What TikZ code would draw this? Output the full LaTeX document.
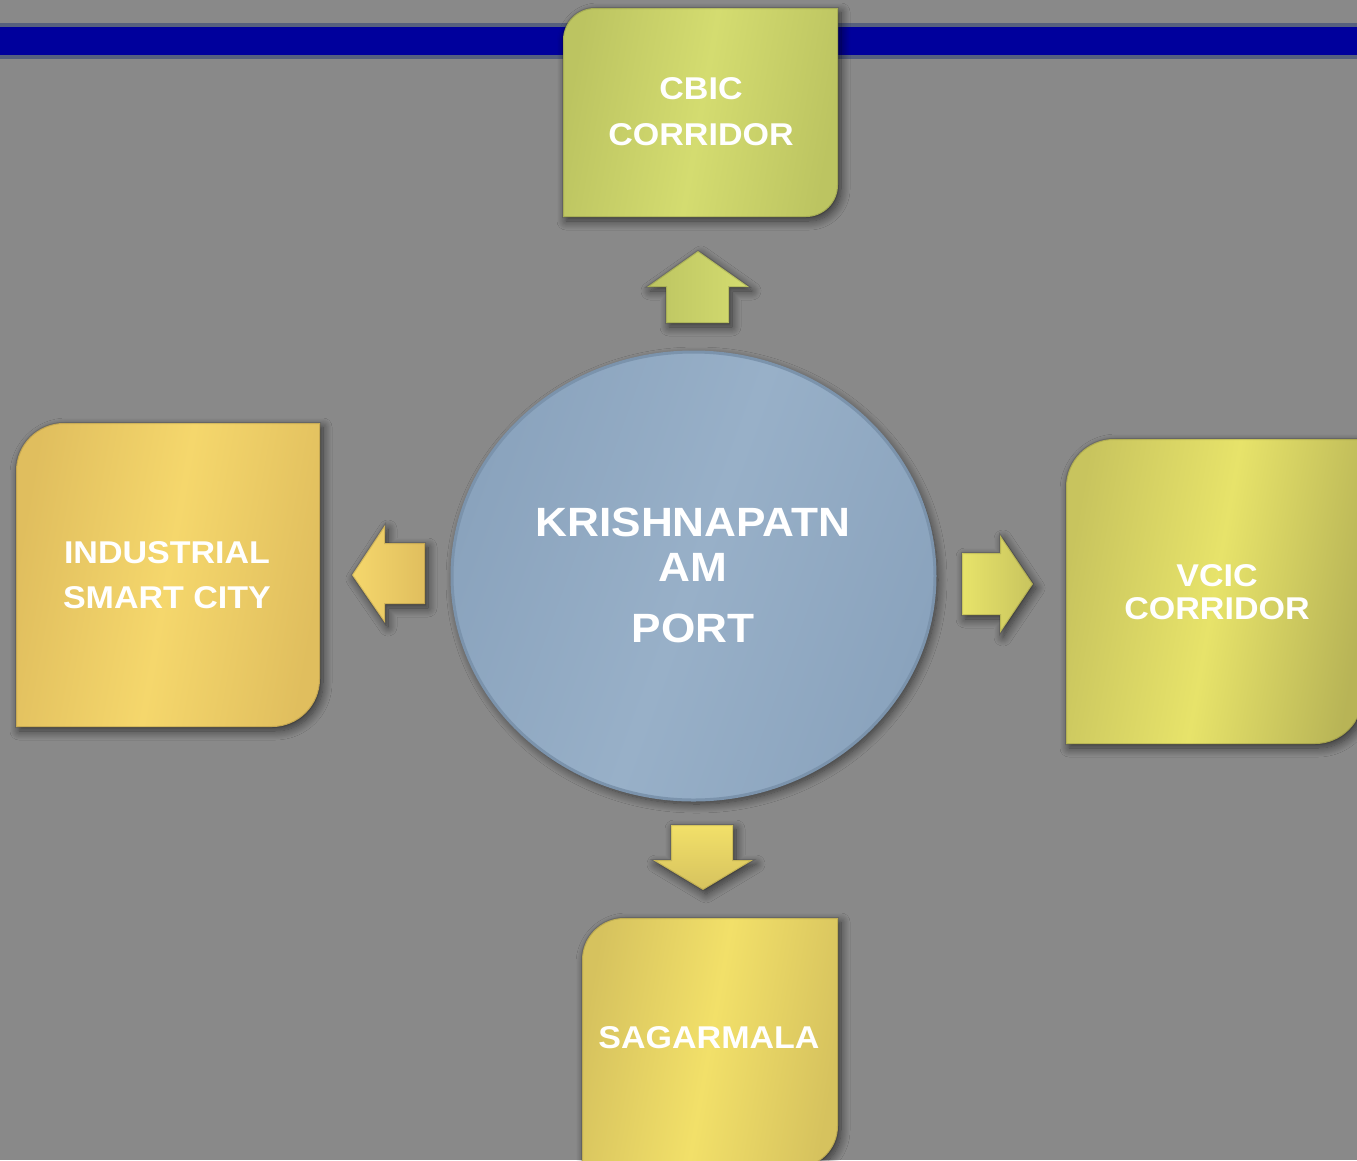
\documentclass[tikz,border=0pt]{standalone}
\usepackage{fontspec}
\newfontfamily\lab[FakeStretch=1.08]{Liberation Sans}
\usetikzlibrary{shapes.geometric,shadows.blur}
\definecolor{bg}{HTML}{898989}
\definecolor{barblue}{HTML}{00009C}
\definecolor{baredge}{HTML}{56607E}
\definecolor{cbicE}{HTML}{BCC461}
\definecolor{cbicM}{HTML}{D4DC70}
\definecolor{indE}{HTML}{E0BE5E}
\definecolor{indM}{HTML}{F5D76C}
\definecolor{vcicE}{HTML}{C8C45E}
\definecolor{vcicM}{HTML}{E7E36A}
\definecolor{sagE}{HTML}{D6C25E}
\definecolor{sagM}{HTML}{F2E069}
\definecolor{portE}{HTML}{8AA3BD}
\definecolor{portM}{HTML}{98B0C8}
\definecolor{portRim}{HTML}{7B93AC}
\def\kb#1#2#3#4#5{(#1,#2+#5) .. controls (#1,#2+0.448*#5) and (#1+0.448*#5,#2) .. (#1+#5,#2) -- (#3,#2) -- (#3,#4-#5) .. controls (#3,#4-0.448*#5) and (#3-0.448*#5,#4) .. (#3-#5,#4) -- (#1,#4) -- cycle}
\begin{document}
\begin{tikzpicture}[x=1pt,y=-1pt,
  lbl/.style={text=white, align=center, inner sep=0pt},
  shad/.style={blur shadow={shadow xshift=3pt, shadow yshift=-4pt, shadow blur radius=9pt, shadow opacity=60, shadow blur steps=12}},
  bevel/.style={draw=black, draw opacity=0.12, line width=2pt},
]
\useasboundingbox (0,0) rectangle (1357,1160);
\clip (0,0) rectangle (1357,1160);
\fill[bg] (0,0) rectangle (1357,1160);
% top bar
\fill[baredge] (0,23) rectangle (1357,59);
\fill[barblue] (0,27) rectangle (1357,55);
% boxes
\path[shad, bevel, left color=cbicE, right color=cbicE, middle color=cbicM, shading angle=80] \kb{563}{8}{838}{217}{32};
\path[shad, bevel, left color=indE, right color=indE, middle color=indM, shading angle=80] \kb{16}{423}{320}{727}{48};
\path[shad, bevel, left color=vcicE, right color=vcicE!92!black, middle color=vcicM, shading angle=80] \kb{1066}{439}{1363}{744}{48};
\path[shad, bevel, left color=sagE, right color=sagE, middle color=sagM, shading angle=80] \kb{582}{918}{838}{1168}{42};
% central port
\node[ellipse, shad, minimum width=483pt, minimum height=448pt, inner sep=0pt,
      left color=portE, right color=portE, middle color=portM, shading angle=70,
      draw=portRim, line width=3pt] (port) at (693.5,576) {};
% arrows
\path[shad, bevel, left color=cbicE, right color=cbicM, shading angle=90]
  (698,251) -- (749,287) -- (729,287) -- (729,323) -- (666,323) -- (666,287) -- (647,287) -- cycle;
\path[shad, bevel, left color=indM, right color=indE, shading angle=90]
  (352,575) -- (385,525) -- (385,543) -- (425,543) -- (425,604) -- (385,604) -- (385,623) -- cycle;
\path[shad, bevel, left color=vcicM, right color=vcicE, shading angle=90]
  (1033,584) -- (1000,535) -- (1000,553) -- (962,553) -- (962,615) -- (1000,615) -- (1000,633) -- cycle;
\path[shad, bevel, left color=sagM, right color=sagE, shading angle=0]
  (703,890) -- (753,860) -- (733,860) -- (733,825) -- (671,825) -- (671,860) -- (653,860) -- cycle;
% labels
\node[lbl, font=\lab\bfseries\fontsize{31.5}{46}\selectfont] (cbic) at (701,112) {CBIC\\CORRIDOR};
\node[lbl, font=\lab\bfseries\fontsize{31.5}{45}\selectfont] (ind) at (167,575) {INDUSTRIAL\\SMART CITY};
\node[lbl, font=\lab\bfseries\fontsize{31.5}{33.5}\selectfont] (vcic) at (1217,592) {VCIC\\CORRIDOR};
\node[lbl, font=\lab\bfseries\fontsize{31.5}{40}\selectfont] (sag) at (709,1038) {SAGARMALA};
\node[lbl, font=\lab\bfseries\fontsize{40.9}{45}\selectfont] (porttext) at (693,575) {KRISHNAPATN\\AM\\[16pt]PORT};
\end{tikzpicture}
\end{document}
